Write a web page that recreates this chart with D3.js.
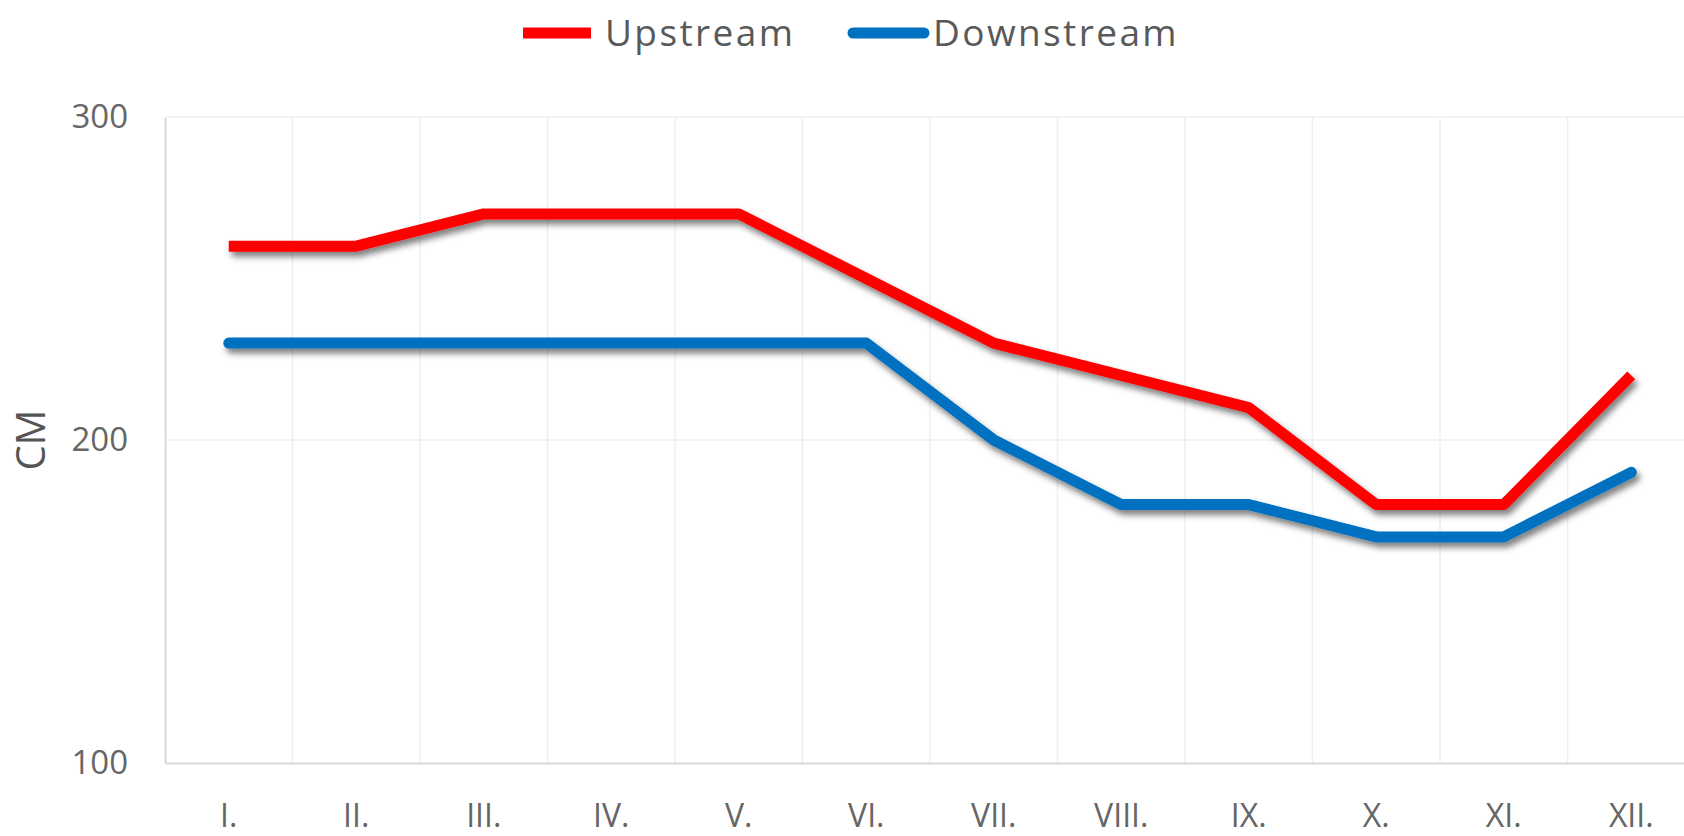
<!DOCTYPE html>
<html>
<head>
<meta charset="utf-8">
<script src="https://cdn.jsdelivr.net/npm/d3@7"></script>
<style>
  body { margin: 0; background: #fff; }
  svg { display: block; font-family: "Open Sans", sans-serif; }
</style>
</head>
<body>
<script>
const width = 1684;
const height = 836;

const months = ["I.", "II.", "III.", "IV.", "V.", "VI.", "VII.", "VIII.", "IX.", "X.", "XI.", "XII."];
const upstream = [260, 260, 270, 270, 270, 250, 230, 220, 210, 180, 180, 220];
const downstream = [230, 230, 230, 230, 230, 230, 200, 180, 180, 170, 170, 190];
const yTicks = [100, 200, 300];

const series = [
    { name: "Upstream", values: upstream, color: "#ff0000", cap: "butt" },
    { name: "Downstream", values: downstream, color: "#0070c0", cap: "round" }
];

// plot runs a little past the right edge, like the source image
const margin = { left: 165, top: 117, bottom: 73 };
const plotW = 1530;

const svg = d3.select("body").append("svg")
    .attr("width", width)
    .attr("height", height);

const defs = svg.append("defs");
defs.append("filter")
    .attr("id", "shadow")
    .attr("x", "-10%").attr("y", "-50%")
    .attr("width", "120%").attr("height", "200%")
    .append("feDropShadow")
    .attr("dx", 3).attr("dy", 5)
    .attr("stdDeviation", 3)
    .attr("flood-color", "#000")
    .attr("flood-opacity", 0.5);

const x = d3.scaleBand()
    .domain(months)
    .range([margin.left, margin.left + plotW]);

const y = d3.scaleLinear()
    .domain([100, 300])
    .range([height - margin.bottom, margin.top]);

// gridlines
svg.append("g")
    .selectAll("line")
    .data(months.slice(1))
    .enter().append("line")
    .attr("x1", d => x(d)).attr("x2", d => x(d))
    .attr("y1", y(300)).attr("y2", y(100))
    .attr("stroke", "#efefef")
    .attr("stroke-width", 1.5);

svg.append("g")
    .selectAll("line")
    .data(yTicks.slice(1))
    .enter().append("line")
    .attr("x1", margin.left).attr("x2", margin.left + plotW)
    .attr("y1", d => y(d)).attr("y2", d => y(d))
    .attr("stroke", "#efefef")
    .attr("stroke-width", 1.5);

// axes
const yAxis = svg.append("g")
    .attr("transform", `translate(${margin.left},0)`)
    .call(d3.axisLeft(y).tickValues(yTicks).tickSize(0).tickPadding(37));
yAxis.select(".domain").attr("stroke", "#d9d9d9").attr("stroke-width", 2);
yAxis.selectAll("text")
    .attr("font-size", 33)
    .attr("font-family", "Open Sans, sans-serif")
    .attr("fill", "#666");

const xAxis = svg.append("g")
    .attr("transform", `translate(0,${y(100)})`)
    .call(d3.axisBottom(x).tickSize(0).tickPadding(41));
xAxis.select(".domain").attr("stroke", "#d9d9d9").attr("stroke-width", 2);
xAxis.selectAll("text")
    .attr("font-size", 32)
    .attr("font-family", "Open Sans, sans-serif")
    .attr("fill", "#666");

svg.append("text")
    .attr("transform", `translate(45,${y(200)}) rotate(-90)`)
    .attr("text-anchor", "middle")
    .attr("font-size", 40)
    .attr("fill", "#555")
    .text("CM");

// lines
const line = d3.line()
    .x((d, i) => x(months[i]) + x.bandwidth() / 2)
    .y(d => y(d));

svg.append("g")
    .selectAll("path")
    .data(series)
    .enter().append("path")
    .attr("d", d => line(d.values))
    .attr("fill", "none")
    .attr("stroke", d => d.color)
    .attr("stroke-width", 11)
    .attr("stroke-linejoin", "round")
    .attr("stroke-linecap", d => d.cap)
    .attr("filter", "url(#shadow)");

// legend
const legendPos = [523, 853];
const legend = svg.append("g")
    .selectAll("g")
    .data(series)
    .enter().append("g")
    .attr("transform", (d, i) => `translate(${legendPos[i]},33)`);

legend.append("line")
    .attr("x1", 0).attr("x2", d => d.cap === "round" ? 71 : 68)
    .attr("stroke", d => d.color)
    .attr("stroke-width", 11)
    .attr("stroke-linecap", d => d.cap);

legend.append("text")
    .attr("x", d => d.cap === "round" ? 80 : 82)
    .attr("dy", "0.36em")
    .attr("font-size", 37)
    .attr("letter-spacing", 2.4)
    .attr("fill", "#595959")
    .text(d => d.name);
</script>
</body>
</html>
